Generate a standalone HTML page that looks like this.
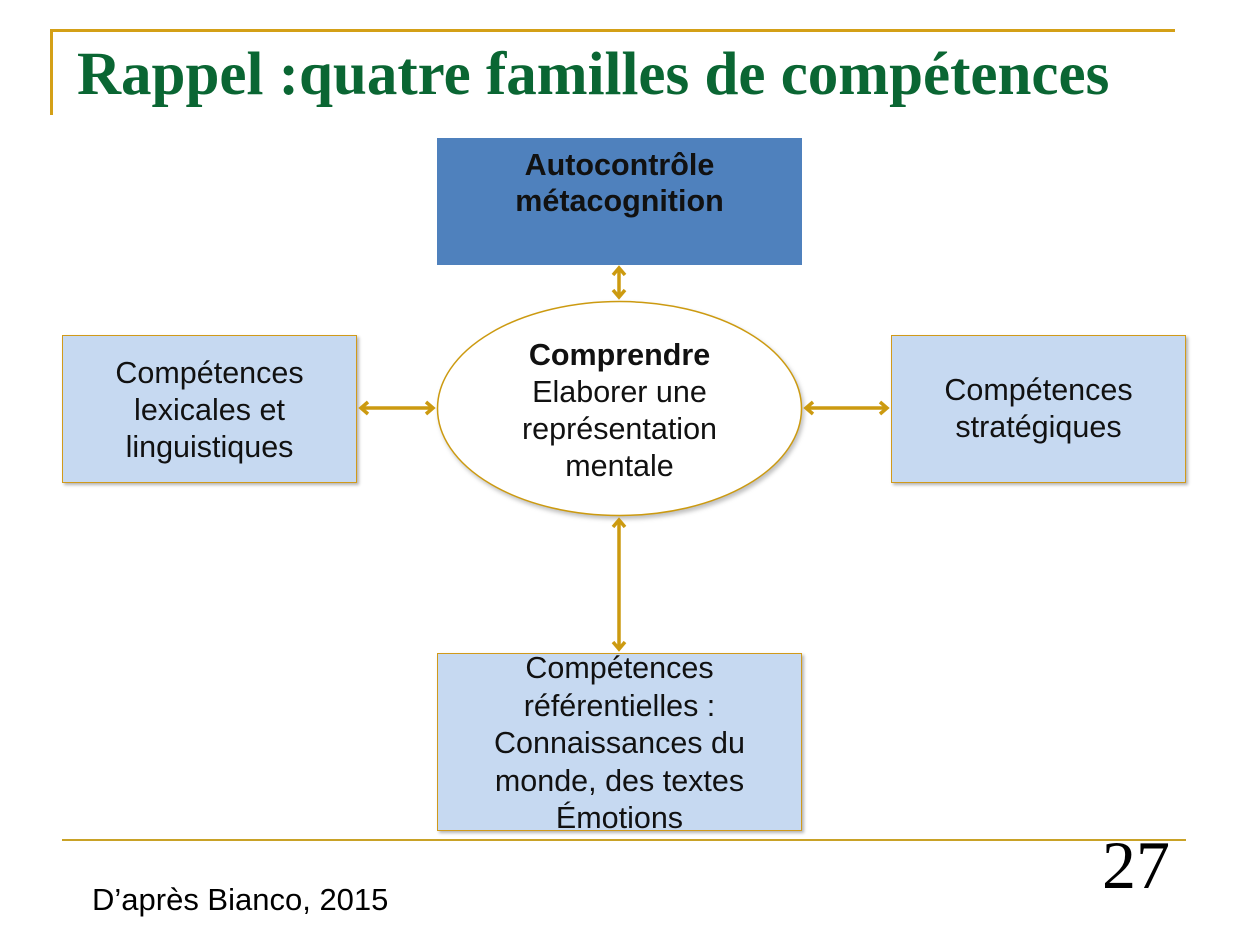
<!DOCTYPE html>
<html><head><meta charset="utf-8"><style>
body{margin:0;width:1248px;height:933px;background:#fff;position:relative;overflow:hidden;font-family:"Liberation Sans",sans-serif}
.a{position:absolute}
.box{position:absolute;display:flex;align-items:center;justify-content:center;text-align:center;font-size:30.5px;line-height:37px;color:#111;box-sizing:border-box;white-space:nowrap}
.lb{background:#c6d9f1;border:1px solid #d19a1a;box-shadow:2px 2px 3px rgba(0,0,0,.3)}
</style></head><body>
<div class="a" style="left:50px;top:29px;width:1125px;height:3px;background:#d4a017"></div>
<div class="a" style="left:50px;top:29px;width:3px;height:86px;background:#d4a017"></div>
<div class="a" style="left:77px;top:40px;font-family:'Liberation Serif',serif;font-weight:bold;font-size:61px;color:#0a6633;white-space:nowrap">Rappel :quatre familles de compétences</div>

<div class="box" style="left:437px;top:138px;width:365px;height:127px;background:#4f81bd;font-weight:bold;align-items:flex-start;padding-top:9px;line-height:36px">Autocontrôle<br>métacognition</div>
<div class="box lb" style="left:62px;top:335px;width:295px;height:148px;align-items:flex-start;padding-top:19px">Compétences<br>lexicales et<br>linguistiques</div>
<div class="box lb" style="left:891px;top:335px;width:295px;height:148px">Compétences<br>stratégiques</div>
<div class="box lb" style="left:437px;top:653px;width:365px;height:178px;line-height:37.5px;padding-top:4px">Compétences<br>référentielles :<br>Connaissances du<br>monde, des textes<br>Émotions</div>

<svg class="a" style="left:0;top:0" width="1248" height="933">
<defs><marker id="m" markerWidth="14" markerHeight="16" refX="9" refY="8" orient="auto-start-reverse" markerUnits="userSpaceOnUse"><path d="M2,2 L9,8 L2,14" fill="none" stroke="#cc9a10" stroke-width="3.5"/></marker></defs>
<ellipse cx="619.5" cy="408.5" rx="182" ry="107" fill="#fff" stroke="#cc9a10" stroke-width="1.5" style="filter:drop-shadow(2px 3px 2px rgba(0,0,0,.25))"/>
<g stroke="#cc9a10" stroke-width="3.5" fill="none">
<line x1="619" y1="268" x2="619" y2="297" marker-start="url(#m)" marker-end="url(#m)"/>
<line x1="361" y1="408" x2="433" y2="408" marker-start="url(#m)" marker-end="url(#m)"/>
<line x1="806" y1="408" x2="887" y2="408" marker-start="url(#m)" marker-end="url(#m)"/>
<line x1="619" y1="520" x2="619" y2="649" marker-start="url(#m)" marker-end="url(#m)"/>
</g>
</svg>
<div class="box" style="left:437px;top:337px;width:365px;height:148px;line-height:37px"><div><b>Comprendre</b><br>Elaborer une<br>représentation<br>mentale</div></div>

<div class="a" style="left:62px;top:839px;width:1124px;height:2px;background:#c9a227"></div>
<div class="a" style="left:1102px;top:826px;font-family:'Liberation Serif',serif;font-size:68px;color:#000">27</div>
<div class="a" style="left:92px;top:882px;font-size:31px;color:#000">D’après Bianco, 2015</div>
</body></html>
